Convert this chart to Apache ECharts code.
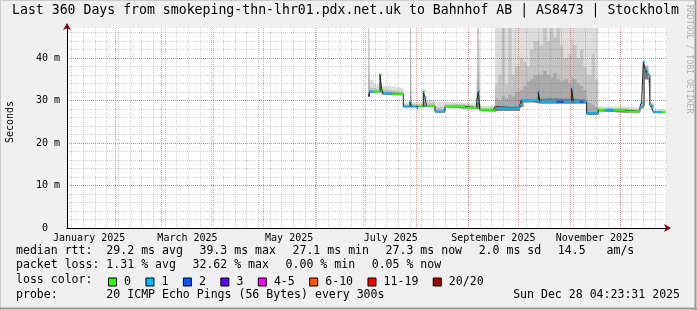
<!DOCTYPE html>
<html><head><meta charset="utf-8">
<script src="https://cdn.jsdelivr.net/npm/echarts@6/dist/echarts.min.js"></script>
<style>html,body{margin:0;padding:0;background:#f0f0f0}#c{width:697px;height:310px}</style>
</head><body><div id="c"></div>
<script>
// ---------------- data ----------------
const titleText = 'Last 360 Days from smokeping-thn-lhr01.pdx.net.uk to Bahnhof AB | AS8473 | Stockholm';
const axisStart = '2025-01-03T05:17:00Z';
const spanDays = 360;
const dataEnd = '2025-12-28T04:23:31Z';

const monthLabelNames = ['January 2025','March 2025','May 2025','July 2025','September 2025','November 2025'];
const monthLabelDates = ['2025-01-16T12:00:00Z','2025-03-16T12:00:00Z','2025-05-16T12:00:00Z','2025-07-16T12:00:00Z','2025-09-16T00:00:00Z','2025-11-16T00:00:00Z'];
const monthStarts = ['2025-02-01','2025-03-01','2025-04-01','2025-05-01','2025-06-01','2025-07-01','2025-08-01','2025-09-01','2025-10-01','2025-11-01','2025-12-01'];
const firstWeekLine = '2025-01-06';
const yTickValues = [0,10,20,30,40];
const yMax = 47.06;

// median rtt (ms), step segments starting at each date; loss bucket index per segment
const medianDates = ['2025-07-03','2025-07-04','2025-07-06','2025-07-10','2025-07-11','2025-07-12','2025-07-17','2025-07-24','2025-07-28','2025-07-29','2025-08-01','2025-08-02','2025-08-05','2025-08-06','2025-08-07','2025-08-12','2025-08-18','2025-08-30','2025-09-06','2025-09-07','2025-09-08','2025-09-16','2025-09-17','2025-09-18','2025-10-02','2025-10-03','2025-10-13','2025-10-14','2025-10-24','2025-10-28','2025-11-02','2025-11-03','2025-11-07','2025-11-09','2025-11-11','2025-11-18','2025-11-22','2025-11-27','2025-12-04','2025-12-13','2025-12-14','2025-12-15','2025-12-16','2025-12-17','2025-12-18','2025-12-19','2025-12-20','2025-12-21','2025-12-26'];
const medianValues = [31.1,32.1,32.1,36.2,32.6,31.7,31.5,28.6,29.7,28.6,28.2,28.6,32.2,30.7,28.7,27.4,28.6,28.3,29.7,32.1,27.8,27.6,28.6,28.2,29.0,30.1,32.1,29.7,29.7,29.7,32.9,29.7,29.7,29.7,27.0,27.8,27.8,27.7,27.4,28.5,29.5,39.1,37.5,36.4,36.0,28.9,28.3,27.3,27.3];
const medianLoss = [3,1,0,0,0,1,0,1,1,1,1,0,0,1,0,1,0,0,1,1,0,0,5,1,1,1,1,1,2,1,1,1,2,1,1,0,1,0,0,1,1,1,1,1,1,1,1,1,0];

// smoke (ping spread, ms): low edge and four layer tops, step segments
const smokeDates = ['2025-07-03','2025-07-04','2025-07-06','2025-07-10','2025-07-11','2025-07-14','2025-07-24','2025-07-28','2025-07-29','2025-08-05','2025-08-06','2025-08-12','2025-08-18','2025-08-30','2025-09-06','2025-09-07','2025-09-08',
  '2025-09-17','2025-09-19','2025-09-21','2025-09-23','2025-09-25','2025-09-27','2025-09-29','2025-10-02','2025-10-04','2025-10-06','2025-10-08','2025-10-10','2025-10-13','2025-10-14','2025-10-16','2025-10-18','2025-10-20','2025-10-22','2025-10-24','2025-10-26','2025-10-28','2025-10-31','2025-11-02','2025-11-03','2025-11-05','2025-11-07','2025-11-09','2025-11-11','2025-11-14','2025-11-16',
  '2025-11-18','2025-12-04','2025-12-13','2025-12-15','2025-12-16','2025-12-18','2025-12-19','2025-12-21'];
const smokeLow   = [31.0,31.8,31.8,32.0,31.5,31.3,28.4,28.4,28.4,28.5,28.5,27.2,28.4,28.1,28.1,27.6,27.6,
  27.4,27.6,27.6,27.6,27.6,27.6,27.6,28.5,29.6,29.6,29.6,29.6,29.5,29.3,29.3,29.3,29.3,29.3,29.3,29.3,29.3,29.3,29.3,29.3,29.3,29.3,29.3,26.6,26.6,26.6,
  27.5,27.2,28.2,29.0,35.0,35.5,28.5,27.0];
const smokeInner = [31.5,32.0,32.0,36.0,31.8,31.5,28.6,29.2,28.6,31.5,28.7,27.4,28.6,28.3,29.8,30.5,27.8,
  28.5,28.4,28.5,28.5,28.6,28.6,28.6,30.2,30.3,30.3,30.4,30.5,32.5,30.4,30.5,30.6,30.5,30.6,30.5,30.4,30.4,30.5,33.0,30.4,30.3,30.3,30.2,27.3,27.3,27.2,
  27.7,27.4,28.6,38.5,37.0,36.0,28.8,27.2];
const smokeMid   = [38.0,32.3,32.2,36.3,32.1,31.7,28.8,35.0,28.8,32.5,29.0,27.8,28.8,28.5,30.5,38.0,28.0,
  30.5,30.0,31.0,30.5,31.5,31.0,32.0,32.5,33.5,34.5,35.0,36.0,36.5,36.0,37.0,36.0,35.5,36.5,35.0,34.5,35.0,34.0,36.0,35.0,34.0,33.5,32.5,29.5,29.0,28.5,
  27.9,27.6,29.0,39.2,37.8,36.5,29.0,27.4];
const smokeUpper = [60.0,33.0,32.6,36.5,32.6,32.2,29.1,60.0,29.1,33.4,29.5,28.5,29.1,28.8,31.5,60.0,28.3,
  34.0,36.0,47.0,34.0,47.0,36.0,38.0,40.0,39.0,38.0,42.0,44.0,45.0,43.0,47.0,44.0,47.0,45.0,47.0,43.0,40.0,41.0,45.0,43.0,40.0,42.0,38.0,36.0,41.0,35.0,
  28.2,27.9,29.5,39.5,38.2,37.0,29.3,27.6];
const smokeOuter = [60.0,34.8,33.8,36.8,33.4,33.0,29.6,60.0,29.6,34.0,30.2,29.7,29.5,29.3,33.0,60.0,28.8,
  55.0,55.0,55.0,55.0,55.0,55.0,55.0,55.0,55.0,55.0,55.0,55.0,55.0,55.0,55.0,55.0,55.0,55.0,55.0,55.0,55.0,55.0,55.0,55.0,55.0,55.0,55.0,55.0,55.0,55.0,
  28.6,28.3,30.0,40.0,38.5,37.5,29.6,27.9];

const lossNames  = ['0','1','2','3','4-5','6-10','11-19','20/20'];
const lossColors = ['#26ff00','#00b8ff','#0059ff','#5e00ff','#ff00ff','#ff5500','#ff0000','#a10000'];

const statsMedian = ['median rtt:  29.2 ms avg','39.3 ms max','27.1 ms min','27.3 ms now','2.0 ms sd','14.5   am/s'];
const statsLoss = ['packet loss: 1.31 % avg','32.62 % max','0.00 % min','0.05 % now'];
const probeText = 'probe:       20 ICMP Echo Pings (56 Bytes) every 300s';
const lossLabel = 'loss color:';
const stampText = 'Sun Dec 28 04:23:31 2025';
const watermark = 'RRDTOOL / TOBI OETIKER';

// ---------------- build chart ----------------
const MONO = "'DejaVu Sans Mono', monospace";
const LFS = 11.55; // legend font size
const toMs = s => Date.parse(s.length === 10 ? s + 'T00:00:00Z' : s);
const startMs = toMs(axisStart);
const endMs = startMs + spanDays * 86400000;
const dataEndMs = toMs(dataEnd);

const weekLines = [];
for (let t = toMs(firstWeekLine); t < endMs; t += 7 * 86400000) weekLines.push(t);
const yMinor = [];
for (let v = 0; v < yMax; v += 2) yMinor.push(v);

const series = [];
const smokeLayers = [smokeOuter, smokeUpper, smokeMid, smokeInner];
const smokeColors = ['#dddddd', '#c4c4c4', '#a9a9a9', '#7a7a7a'];
const lastLow = smokeLow[smokeLow.length - 1];
smokeLayers.forEach((hi, k) => {
  const base = smokeDates.map((d, i) => [toMs(d), smokeLow[i]]);
  base.push([dataEndMs, lastLow]);
  const band = smokeDates.map((d, i) => [toMs(d), hi[i] - smokeLow[i]]);
  band.push([dataEndMs, hi[hi.length - 1] - lastLow]);
  const st = 'smoke' + k;
  series.push({ type: 'line', stack: st, step: 'end', data: base, symbol: 'none', silent: true,
    lineStyle: { width: 0, opacity: 0 }, z: 1 });
  series.push({ type: 'line', stack: st, step: 'end', data: band, symbol: 'none', silent: true,
    lineStyle: { width: 0, opacity: 0 }, areaStyle: { color: smokeColors[k], opacity: 1 }, z: 1 });
});

const med = medianDates.map((d, i) => [toMs(d), medianValues[i]]);
med.push([dataEndMs, medianValues[medianValues.length - 1]]);
series.push({ type: 'line', step: 'end', data: med, symbol: 'none', silent: true,
  lineStyle: { width: 1, color: '#202020' }, z: 2 });

lossNames.forEach((name, b) => {
  const data = [];
  for (let i = 0; i < medianDates.length; i++) {
    if (medianLoss[i] !== b) continue;
    const t0 = toMs(medianDates[i]);
    const t1 = i + 1 < medianDates.length ? toMs(medianDates[i + 1]) : dataEndMs;
    data.push([t0, medianValues[i]], [t1, medianValues[i]], [t1, null]);
  }
  series.push({ name, type: 'line', data, symbol: 'none', silent: true, connectNulls: false,
    color: lossColors[b], itemStyle: { color: lossColors[b] },
    lineStyle: { width: 2, color: lossColors[b], cap: 'butt' }, z: 3 });
});

const gridLeft = 67, gridTop = 28, gridW = 600, gridH = 200;
const baseX = { type: 'value', min: startMs, max: endMs, position: 'bottom' };
const baseY = { type: 'value', min: 0, max: yMax, position: 'left' };
const mlabel = { fontFamily: MONO, fontSize: 10, color: '#000' };
const labelMs = monthLabelDates.map(toMs);

const plain = { fontFamily: MONO, fontSize: LFS, fontWeight: 'normal', color: '#000' };
const itemGapPx = 16.6;
const richRow = (parts) => ({
  text: parts.map((p, i) => '{' + (i < parts.length - 1 ? 'g' : 'e') + '|' + p + '}').join(''),
  rich: { g: Object.assign({}, plain, { padding: [0, itemGapPx, 0, 0] }), e: Object.assign({}, plain) }
});
const row1 = richRow(statsMedian), row2 = richRow(statsLoss);

const option = {
  backgroundColor: '#f0f0f0',
  animation: false,
  grid: { left: gridLeft, top: gridTop, width: gridW, height: gridH, show: true, backgroundColor: '#ffffff', borderWidth: 0,
    containLabel: false, outerBoundsMode: 'none' },
  title: [
    { text: titleText, left: 12, top: 4, padding: 0,
      textStyle: { fontFamily: MONO, fontSize: 13.2, fontWeight: 'normal', color: '#000' } },
    { text: row1.text, left: 16, top: 245, padding: 0, textStyle: Object.assign({}, plain, { rich: row1.rich }) },
    { text: row2.text, left: 16, top: 259, padding: 0, textStyle: Object.assign({}, plain, { rich: row2.rich }) },
    { text: lossLabel, left: 16, top: 274, padding: 0, textStyle: plain },
    { text: probeText, left: 16, top: 289, padding: 0, textStyle: plain },
    { text: stampText, right: 17, top: 289, padding: 0, textStyle: plain }
  ],
  legend: {
    data: lossNames, left: 108, top: 276, padding: 0, icon: 'rect',
    itemWidth: 8, itemHeight: 8, itemGap: 14.4, selectedMode: false,
    itemStyle: { borderColor: '#000', borderWidth: 1 },
    textStyle: { fontFamily: MONO, fontSize: LFS, fontWeight: 'normal', color: '#000', padding: [0, 0, 0, 2.6] }
  },
  xAxis: [
    { type: 'time', min: startMs, max: endMs, show: false },
    Object.assign({}, baseX, { z: 3,
      axisLine: { show: true, onZero: false, lineStyle: { color: '#000', width: 1 } },
      axisTick: { show: false },
      axisLabel: { customValues: labelMs, margin: 5, ...mlabel,
        formatter: (v) => { const i = labelMs.indexOf(+v); return i >= 0 ? monthLabelNames[i] : ''; } },
      splitLine: { show: false } }),
    Object.assign({}, baseX, { z: 1.4,
      axisLine: { show: false }, axisLabel: { show: false },
      axisTick: { show: false, customValues: weekLines },
      splitLine: { show: true, lineStyle: { color: 'rgba(120,120,120,0.35)', width: 1, type: [1, 1] } } }),
    Object.assign({}, baseX, { z: 1.5,
      axisLine: { show: true, onZero: false, symbol: ['none', 'arrow'], symbolSize: [6, 7], symbolOffset: [0, 4],
        lineStyle: { color: '#8b0000', width: 1 } },
      axisLabel: { show: false },
      axisTick: { show: false, customValues: monthStarts.map(toMs) },
      splitLine: { show: true, lineStyle: { color: 'rgba(230,60,60,0.55)', width: 1, type: [1, 1] } } })
  ],
  yAxis: [
    Object.assign({}, baseY, { z: 1.5,
      name: 'Seconds', nameLocation: 'middle', nameRotate: 90, nameGap: 52,
      nameTextStyle: { fontFamily: MONO, fontSize: 10, color: '#000', padding: [0, 0, 0, 12] },
      axisLine: { show: true, onZero: false, lineStyle: { color: '#000', width: 1 } },
      axisTick: { show: false, customValues: yTickValues },
      axisLabel: { customValues: yTickValues, margin: 7, ...mlabel,
        formatter: (v) => v === 0 ? '{z|0}' : v + ' m',
        rich: { z: { fontFamily: MONO, fontSize: 10, color: '#000', padding: [0, 12, 0, 0] } } },
      splitLine: { show: true, lineStyle: { color: 'rgba(230,60,60,0.55)', width: 1, type: [1, 1] } } }),
    Object.assign({}, baseY, { z: 1.4,
      axisLine: { show: true, onZero: false, symbol: ['none', 'arrow'], symbolSize: [6, 7], symbolOffset: [0, 5],
        lineStyle: { color: '#8b0000', width: 1 } },
      axisLabel: { show: false },
      axisTick: { show: false, customValues: yMinor },
      splitLine: { show: true, lineStyle: { color: 'rgba(120,120,120,0.35)', width: 1, type: [1, 1] } } })
  ],
  graphic: [
    { type: 'text', x: 693, y: 5, rotation: -Math.PI / 2, silent: true, z: 10,
      style: { text: watermark, font: "8.2px " + MONO, fill: '#b0b0b0', verticalAlign: 'top' } },
    { type: 'line', silent: true, shape: { x1: 0, y1: 0.5, x2: 697, y2: 0.5 }, style: { stroke: '#cbcbcb', lineWidth: 1 } },
    { type: 'line', silent: true, shape: { x1: 0.5, y1: 0, x2: 0.5, y2: 310 }, style: { stroke: '#cbcbcb', lineWidth: 1 } },
    { type: 'line', silent: true, shape: { x1: 0, y1: 308.5, x2: 697, y2: 308.5 }, style: { stroke: '#999999', lineWidth: 2 } },
    { type: 'line', silent: true, shape: { x1: 695.5, y1: 0, x2: 695.5, y2: 310 }, style: { stroke: '#999999', lineWidth: 2 } }
  ],
  series
};
const chart = echarts.init(document.getElementById('c'), null, { renderer: 'canvas' });
chart.setOption(option);
</script>
</body></html>
